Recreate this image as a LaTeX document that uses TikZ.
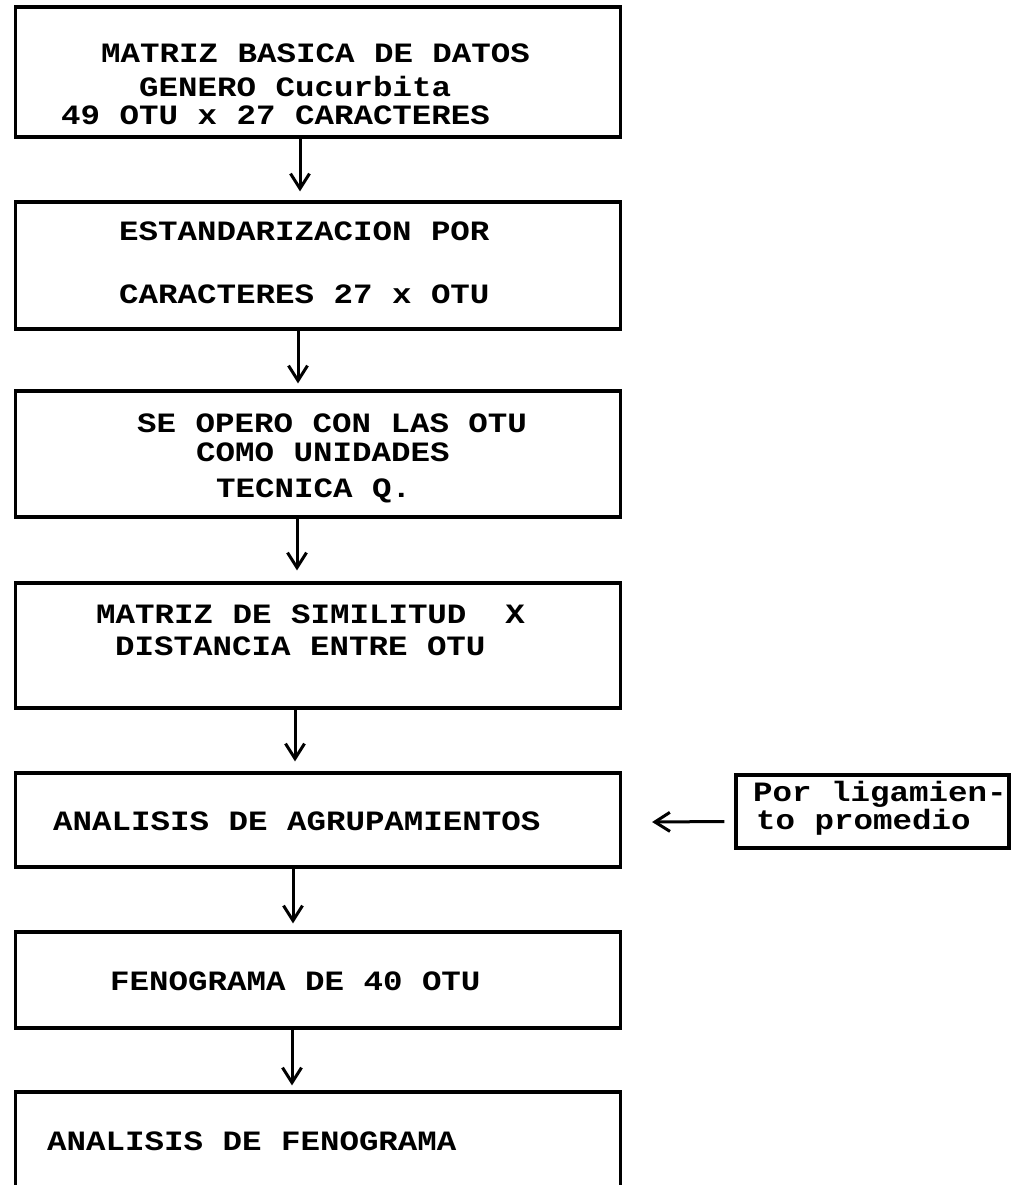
\documentclass[tikz,border=0pt]{standalone}
\usepackage{fontspec}
\setmonofont[FakeStretch=1.16]{Liberation Mono}
\usetikzlibrary{arrows.meta}

\begin{document}
\begin{tikzpicture}[x=1pt, y=-1pt, >={Straight Barb[length=15pt,width=19pt]},
  caja/.style={draw, line width=3.2pt, minimum width=605pt, inner sep=0pt},
  txt/.style={anchor=base west, inner sep=0pt, font=\ttfamily\bfseries\fontsize{28}{32}\selectfont},
  flecha/.style={->, line width=3pt}]
\useasboundingbox (0,0) rectangle (1015,1185);
\fill[white] (0,0) rectangle (1015,1185);
\clip (0,0) rectangle (1015,1185);
% cajas
\node[caja, minimum height=130pt] (b1) at (318,72) {};
\node[caja, minimum height=127pt] (b2) at (318,265.5) {};
\node[caja, minimum height=126pt] (b3) at (318,454) {};
\node[caja, minimum height=125pt] (b4) at (318,645.5) {};
\node[caja, minimum height=94pt] (b5) at (318,820) {};
\node[caja, minimum height=96pt] (b6) at (318,980) {};
\node[caja, minimum height=120pt] (b7) at (318,1152) {};
\node[caja, minimum width=273pt, minimum height=73pt] (lig) at (872.5,811.5) {};
% textos
\node[txt] at (101,63) {MATRIZ BASICA DE DATOS};
\node[txt] at (139,97) {GENERO Cucurbita};
\node[txt] at (61,125) {49 OTU x 27 CARACTERES};
\node[txt] at (119,240) {ESTANDARIZACION POR};
\node[txt] at (119,303) {CARACTERES 27 x OTU};
\node[txt] at (137,432) {SE OPERO CON LAS OTU};
\node[txt] at (196,461) {COMO UNIDADES};
\node[txt] at (216,497) {TECNICA Q.};
\node[txt] at (96,623) {MATRIZ DE SIMILITUD\ \ X};
\node[txt] at (115,655) {DISTANCIA ENTRE OTU};
\node[txt] at (53,830) {ANALISIS DE AGRUPAMIENTOS};
\node[txt] at (753,801) {Por ligamien-};
\node[txt] at (756,829) {to promedio};
\node[txt] at (110,990) {FENOGRAMA DE 40 OTU};
\node[txt] at (47,1150) {ANALISIS DE FENOGRAMA};
% flechas
\draw[flecha] ([xshift=-18pt]b1.south) -- ([xshift=-18pt,yshift=9pt]b2.north);
\draw[flecha] ([xshift=-20pt]b2.south) -- ([xshift=-20pt,yshift=6pt]b3.north);
\draw[flecha] ([xshift=-21pt]b3.south) -- ([xshift=-21pt,yshift=11pt]b4.north);
\draw[flecha] ([xshift=-23pt]b4.south) -- ([xshift=-23pt,yshift=10pt]b5.north);
\draw[flecha] ([xshift=-25pt]b5.south) -- ([xshift=-25pt,yshift=7pt]b6.north);
\draw[flecha] ([xshift=-26pt]b6.south) -- ([xshift=-26pt,yshift=5pt]b7.north);
\draw[flecha] ([xshift=-10pt,yshift=-10pt]lig.west) -- ([xshift=30pt,yshift=-2pt]b5.east);
\end{tikzpicture}
\end{document}
